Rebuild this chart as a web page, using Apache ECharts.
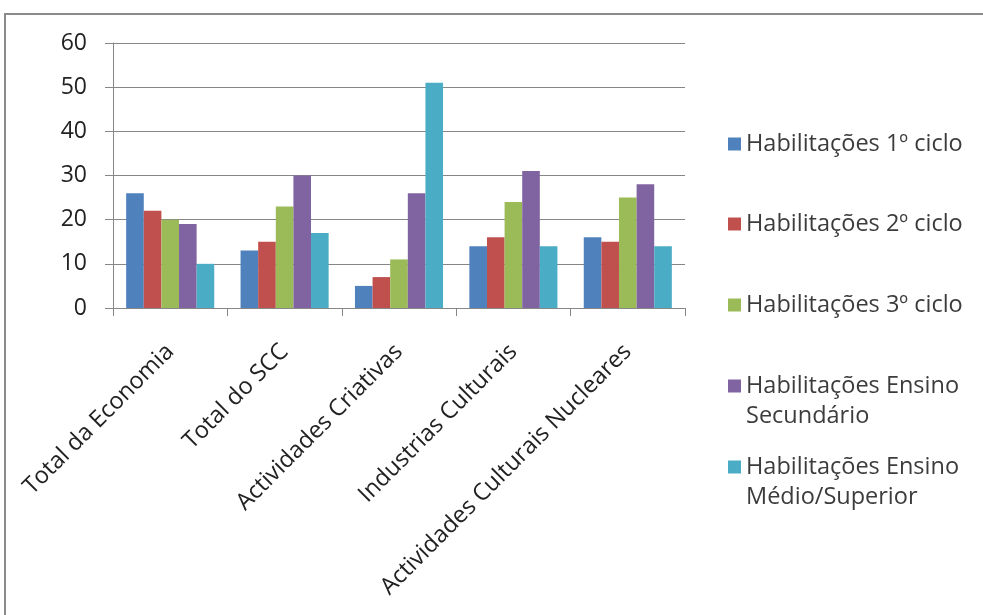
<!DOCTYPE html>
<html>
<head>
<meta charset="utf-8">
<script src="https://cdn.jsdelivr.net/npm/echarts@6/dist/echarts.min.js"></script>
<style>
  html, body { margin: 0; padding: 0; background: #fff; }
  #chart { width: 983px; height: 615px; }
</style>
</head>
<body>
<div id="chart"></div>
<script>
// Categories along the x axis
const categories = [
  'Total da Economia',
  'Total do SCC',
  'Actividades Criativas',
  'Industrias Culturais',
  'Actividades Culturais Nucleares'
];

// Series names (legend order)
const seriesNames = [
  'Habilitações 1º ciclo',
  'Habilitações 2º ciclo',
  'Habilitações 3º ciclo',
  'Habilitações Ensino Secundário',
  'Habilitações Ensino Médio/Superior'
];

// Values per series, one per category
const ciclo1 = [26, 13, 5, 14, 16];
const ciclo2 = [22, 15, 7, 16, 15];
const ciclo3 = [20, 23, 11, 24, 25];
const secundario = [19, 30, 26, 31, 28];
const medioSuperior = [10, 17, 51, 14, 14];

// Y axis ticks
const yMin = 0, yMax = 60, yStep = 10;

const seriesValues = [ciclo1, ciclo2, ciclo3, secundario, medioSuperior];
const colors = ['#4F81BD', '#C0504D', '#9BBB59', '#8064A2', '#4BACC6'];

// Legend text, wrapped the way it is shown beside the plot
const legendLines = [
  ['Habilitações 1º ciclo'],
  ['Habilitações 2º ciclo'],
  ['Habilitações 3º ciclo'],
  ['Habilitações Ensino', 'Secundário'],
  ['Habilitações Ensino', 'Médio/Superior']
];

const FONT = '"Open Sans", Lato, sans-serif';
const LINE_H = 30;
// vertical centre of each legend entry's first line
const legendCenters = [144, 224, 305, 386, 467];

const chart = echarts.init(document.getElementById('chart'), null, { renderer: 'canvas' });

// One legend per entry so each can sit at its own height. A wrapped entry gets a
// leading blank line so its first line stays level with the colour square.
const legends = seriesNames.map((name, i) => {
  const lines = legendLines[i];
  const text = lines.length > 1 ? '\n' + lines.join('\n') : lines[0];
  const boxH = lines.length > 1 ? LINE_H * 3 : LINE_H;
  return {
    orient: 'vertical',
    left: 728,
    top: legendCenters[i] - boxH / 2,
    data: [name],
    icon: 'rect',
    itemWidth: 13,
    itemHeight: 13,
    itemGap: 0,
    padding: 0,
    selectedMode: false,
    formatter: () => text,
    textStyle: {
      fontFamily: FONT,
      fontSize: 23.5,
      color: '#3c3c3c',
      lineHeight: LINE_H
    }
  };
});

chart.setOption({
  backgroundColor: '#ffffff',
  animation: false,
  color: colors,
  textStyle: { fontFamily: FONT },
  graphic: [{
    type: 'rect',
    shape: { x: 5, y: 14, width: 1000, height: 700 },
    style: { fill: 'none', stroke: '#8a8a8a', lineWidth: 2 },
    silent: true
  }],
  legend: legends,
  grid: { left: 113, right: 298, top: 43, bottom: 307, containLabel: false },
  xAxis: {
    type: 'category',
    data: categories,
    boundaryGap: true,
    axisLine: { show: true, lineStyle: { color: '#868686', width: 1 } },
    axisTick: { show: true, length: 8, interval: 0, alignWithLabel: false, lineStyle: { color: '#868686' } },
    axisLabel: {
      interval: 0,
      rotate: 45,
      margin: 40,
      fontFamily: FONT,
      fontSize: 23.5,
      color: '#222'
    }
  },
  yAxis: {
    type: 'value',
    min: yMin,
    max: yMax,
    interval: yStep,
    axisLine: { show: true, lineStyle: { color: '#868686', width: 1 } },
    axisTick: { show: true, length: 8, lineStyle: { color: '#868686' } },
    splitLine: { show: true, lineStyle: { color: '#868686', width: 1 } },
    axisLabel: {
      margin: 26,
      fontFamily: FONT,
      fontSize: 23,
      color: '#222'
    }
  },
  series: seriesNames.map((name, i) => ({
    name: name,
    type: 'bar',
    data: seriesValues[i],
    barGap: '0%',
    barCategoryGap: '23%',
    itemStyle: { color: colors[i] }
  }))
});
</script>
</body>
</html>
